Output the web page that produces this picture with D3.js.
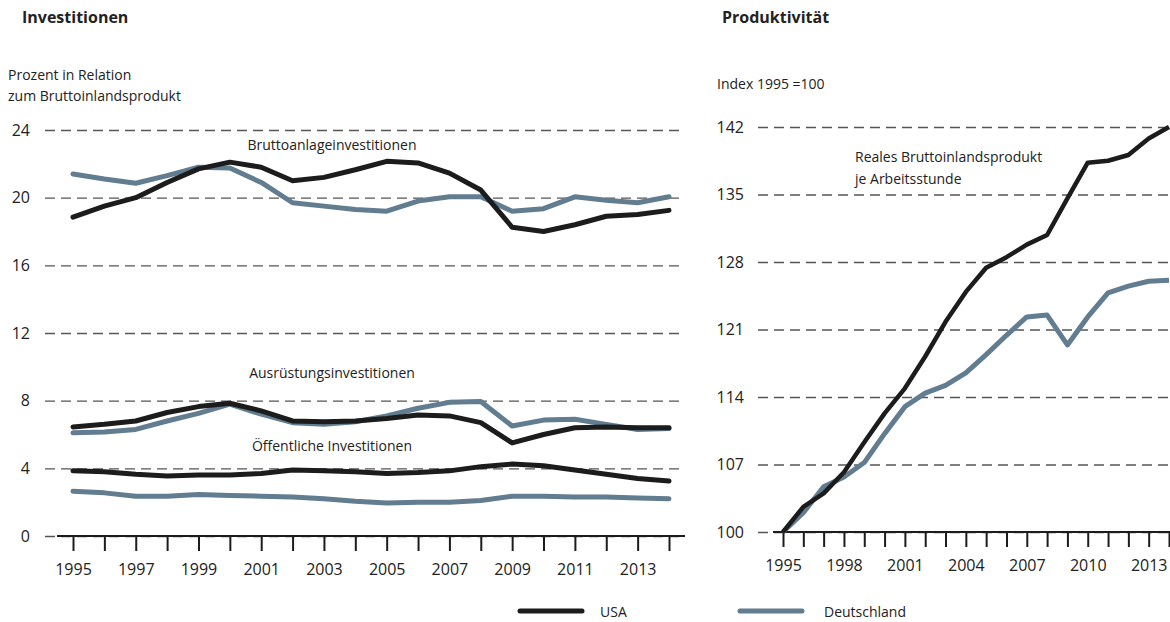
<!DOCTYPE html>
<html>
<head>
<meta charset="utf-8">
<script src="https://cdn.jsdelivr.net/npm/d3@7"></script>
<style>
  body { margin: 0; background: #fff; }
  svg { display: block; font-family: "Open Sans", sans-serif; }
</style>
</head>
<body>
<div id="chart"></div>
<script>
// data
const years = [1995, 1996, 1997, 1998, 1999, 2000, 2001, 2002, 2003, 2004,
               2005, 2006, 2007, 2008, 2009, 2010, 2011, 2012, 2013, 2014];

// Investitionen, Prozent des BIP
const bruttoUSA = [18.85, 19.5, 20.0, 20.9, 21.7, 22.1, 21.8, 21.0, 21.2, 21.65,
                   22.15, 22.05, 21.45, 20.45, 18.25, 18.0, 18.4, 18.9, 19.0, 19.25];
const bruttoDE  = [21.4, 21.1, 20.85, 21.3, 21.8, 21.75, 20.9, 19.7, 19.5, 19.3,
                   19.2, 19.8, 20.05, 20.05, 19.2, 19.35, 20.05, 19.85, 19.7, 20.05];
const ausrUSA   = [6.45, 6.6, 6.8, 7.3, 7.65, 7.85, 7.4, 6.8, 6.75, 6.8,
                   6.95, 7.15, 7.1, 6.7, 5.5, 6.0, 6.4, 6.45, 6.4, 6.4];
const ausrDE    = [6.1, 6.15, 6.3, 6.8, 7.25, 7.8, 7.2, 6.7, 6.6, 6.75,
                   7.1, 7.55, 7.9, 7.95, 6.5, 6.85, 6.9, 6.6, 6.3, 6.35];
const oeffUSA   = [3.85, 3.8, 3.65, 3.55, 3.6, 3.6, 3.7, 3.9, 3.85, 3.8,
                   3.7, 3.75, 3.85, 4.1, 4.25, 4.15, 3.9, 3.65, 3.4, 3.25];
const oeffDE    = [2.65, 2.55, 2.35, 2.35, 2.45, 2.4, 2.35, 2.3, 2.2, 2.05,
                   1.95, 2.0, 2.0, 2.1, 2.35, 2.35, 2.3, 2.3, 2.25, 2.2];

// Produktivität, Index 1995 = 100
const prodUSA = [100, 102.6, 104.0, 106.2, 109.3, 112.3, 114.9, 118.2, 121.8, 124.9,
                 127.4, 128.5, 129.8, 130.8, 134.6, 138.3, 138.5, 139.1, 140.8, 142.0];
const prodDE  = [100, 102.0, 104.7, 105.7, 107.2, 110.2, 113.0, 114.4, 115.2, 116.5,
                 118.4, 120.4, 122.3, 122.5, 119.4, 122.3, 124.8, 125.5, 126.0, 126.1];

const leftTicks = [0, 4, 8, 12, 16, 20, 24];
const rightTicks = [100, 107, 114, 121, 128, 135, 142];
const leftYearLabels = [1995, 1997, 1999, 2001, 2003, 2005, 2007, 2009, 2011, 2013];
const rightYearLabels = [1995, 1998, 2001, 2004, 2007, 2010, 2013];

const colUSA = "#1c1c1c";
const colDE = "#627c90";

const svg = d3.select("#chart").append("svg")
  .attr("width", 1170)
  .attr("height", 622);

// ---------- left panel: Investitionen ----------
const xL = d3.scaleLinear().domain([1995, 2014]).range([73, 669]);
const yL = d3.scaleLinear().domain([0, 24]).range([536, 130]);

svg.append("text")
  .attr("x", 22).attr("y", 23)
  .style("font-size", "16px").style("font-weight", "bold").attr("fill", "#222")
  .text("Investitionen");

svg.append("text")
  .attr("x", 8).attr("y", 80)
  .style("font-size", "14px").attr("fill", "#222")
  .text("Prozent in Relation");
svg.append("text")
  .attr("x", 8).attr("y", 101)
  .style("font-size", "14px").attr("fill", "#222")
  .text("zum Bruttoinlandsprodukt");

// gridlines + y labels
const gyL = svg.append("g")
  .attr("transform", "translate(45,0)")
  .call(d3.axisLeft(yL).tickValues(leftTicks).tickSizeInner(-640).tickSizeOuter(0).tickPadding(15));
gyL.select(".domain").remove();
gyL.selectAll(".tick line")
  .attr("stroke", "#555").attr("stroke-width", 1.3).attr("stroke-dasharray", "10,6");
gyL.selectAll(".tick text")
  .attr("fill", "#222").style("font-size", "16px").style("font-family", "Open Sans, sans-serif");

// x axis
const gxL = svg.append("g")
  .attr("transform", `translate(0,${yL(0)})`)
  .call(d3.axisBottom(xL).tickValues(years).tickSizeInner(15).tickSizeOuter(0).tickPadding(13)
    .tickFormat(d => leftYearLabels.includes(d) ? d : ""));
gxL.select(".domain").remove();
gxL.selectAll(".tick line").attr("stroke", "#1c1c1c").attr("stroke-width", 2);
gxL.selectAll(".tick text")
  .attr("fill", "#222").style("font-size", "16px").style("font-family", "Open Sans, sans-serif");
svg.append("line")
  .attr("x1", 57).attr("x2", 685)
  .attr("y1", yL(0)).attr("y2", yL(0))
  .attr("stroke", "#1c1c1c").attr("stroke-width", 2);

const lineL = d3.line().x((d, i) => xL(years[i])).y(d => yL(d));

[[bruttoDE, colDE], [bruttoUSA, colUSA],
 [ausrDE, colDE], [ausrUSA, colUSA],
 [oeffDE, colDE], [oeffUSA, colUSA]].forEach(([vals, col]) => {
  svg.append("path")
    .datum(vals)
    .attr("d", lineL)
    .attr("fill", "none")
    .attr("stroke", col)
    .attr("stroke-width", 5)
    .attr("stroke-linejoin", "round")
    .attr("stroke-linecap", "round");
});

const annL = [
  { text: "Bruttoanlageinvestitionen", y: 150 },
  { text: "Ausrüstungsinvestitionen", y: 378 },
  { text: "Öffentliche Investitionen", y: 451 }
];
svg.selectAll(".annL").data(annL).enter().append("text")
  .attr("class", "annL")
  .attr("x", 332).attr("y", d => d.y)
  .attr("text-anchor", "middle")
  .style("font-size", "14px").attr("fill", "#222")
  .text(d => d.text);

// ---------- right panel: Produktivität ----------
const xR = d3.scaleLinear().domain([1995, 2014]).range([783, 1169]);
const yR = d3.scaleLinear().domain([100, 142]).range([532, 127]);

svg.append("text")
  .attr("x", 722).attr("y", 23)
  .style("font-size", "16px").style("font-weight", "bold").attr("fill", "#222")
  .text("Produktivität");

svg.append("text")
  .attr("x", 717).attr("y", 89)
  .style("font-size", "14px").attr("fill", "#222")
  .text("Index 1995 =100");

const gyR = svg.append("g")
  .attr("transform", "translate(758,0)")
  .call(d3.axisLeft(yR).tickValues(rightTicks).tickSizeInner(-420).tickSizeOuter(0).tickPadding(14));
gyR.select(".domain").remove();
gyR.selectAll(".tick line")
  .attr("stroke", "#555").attr("stroke-width", 1.3).attr("stroke-dasharray", "10,6");
gyR.selectAll(".tick text")
  .attr("fill", "#222").style("font-size", "16px").style("font-family", "Open Sans, sans-serif");

const gxR = svg.append("g")
  .attr("transform", `translate(0,${yR(100)})`)
  .call(d3.axisBottom(xR).tickValues(years).tickSizeInner(15).tickSizeOuter(0).tickPadding(13)
    .tickFormat(d => rightYearLabels.includes(d) ? d : ""));
gxR.select(".domain").remove();
gxR.selectAll(".tick line").attr("stroke", "#1c1c1c").attr("stroke-width", 2);
gxR.selectAll(".tick text")
  .attr("fill", "#222").style("font-size", "16px").style("font-family", "Open Sans, sans-serif");
svg.append("line")
  .attr("x1", 773).attr("x2", 1170)
  .attr("y1", yR(100)).attr("y2", yR(100))
  .attr("stroke", "#1c1c1c").attr("stroke-width", 2);

const lineR = d3.line().x((d, i) => xR(years[i])).y(d => yR(d));

svg.append("path")
  .datum(prodDE)
  .attr("d", lineR)
  .attr("fill", "none").attr("stroke", colDE).attr("stroke-width", 5)
  .attr("stroke-linejoin", "round");
svg.append("path")
  .datum(prodUSA)
  .attr("d", lineR)
  .attr("fill", "none").attr("stroke", colUSA).attr("stroke-width", 4.5)
  .attr("stroke-linejoin", "round");

svg.append("text")
  .attr("x", 855).attr("y", 162)
  .style("font-size", "14px").attr("fill", "#222")
  .text("Reales Bruttoinlandsprodukt");
svg.append("text")
  .attr("x", 855).attr("y", 184)
  .style("font-size", "14px").attr("fill", "#222")
  .text("je Arbeitsstunde");

// ---------- legend ----------
const legendItems = [
  { name: "USA", color: colUSA, x: 520 },
  { name: "Deutschland", color: colDE, x: 740 }
];
const lg = svg.selectAll(".legend").data(legendItems).enter().append("g")
  .attr("class", "legend")
  .attr("transform", d => `translate(${d.x},611)`);
lg.append("line")
  .attr("x1", 0).attr("x2", 62)
  .attr("stroke", d => d.color).attr("stroke-width", 5).attr("stroke-linecap", "round");
lg.append("text")
  .attr("x", d => d.name === "USA" ? 80 : 84).attr("y", 6)
  .style("font-size", "14px").attr("fill", "#222")
  .text(d => d.name);
</script>
</body>
</html>
